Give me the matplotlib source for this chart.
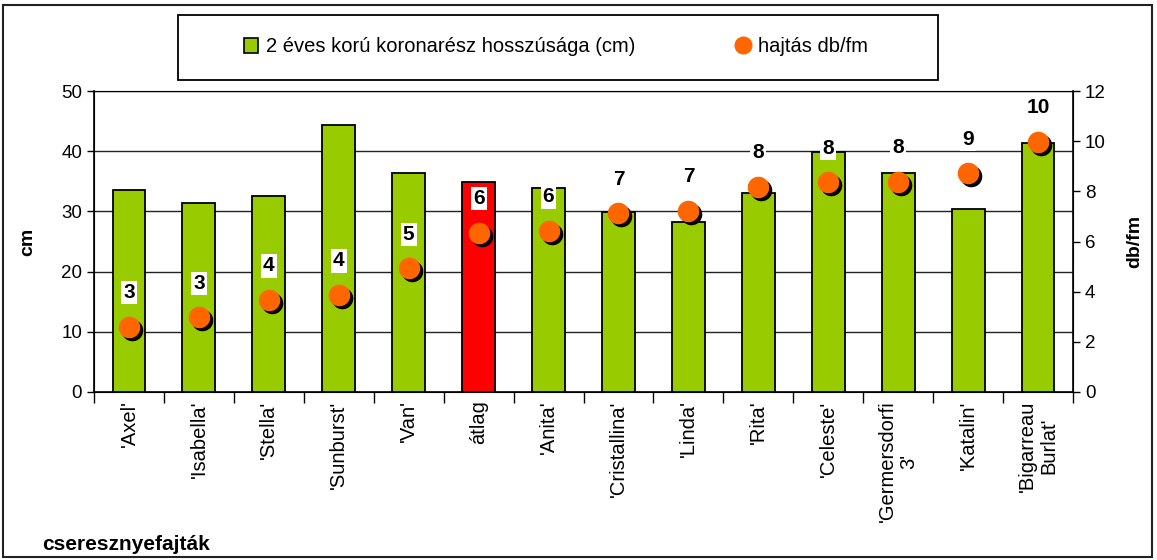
import matplotlib
matplotlib.use("Agg")
import matplotlib.pyplot as plt
from matplotlib.patches import Rectangle
from matplotlib.lines import Line2D
from matplotlib.patches import Patch
import matplotlib.transforms as mtransforms
import numpy as np

plt.rcParams['font.family'] = ['Liberation Sans', 'DejaVu Sans']

categories = ["'Axel'", "'Isabella'", "'Stella'", "'Sunburst'", "'Van'", "átlag", "'Anita'",
              "'Cristallina'", "'Linda'", "'Rita'", "'Celeste'", "'Germersdorfi\n3'",
              "'Katalin'", "'Bigarreau\nBurlat'"]
length_cm = [33.5, 31.4, 32.5, 44.4, 36.3, 34.9, 33.9, 29.9, 28.2, 33.0, 39.9, 36.3, 30.4, 41.4]
shoots = [2.6, 2.98, 3.67, 3.87, 4.93, 6.35, 6.42, 7.12, 7.23, 8.19, 8.36, 8.39, 8.72, 9.98]
shoot_labels = ["3", "3", "4", "4", "5", "6", "6", "7", "7", "8", "8", "8", "9", "10"]
bar_colors = ["#99CC00"] * 5 + ["#FF0000"] + ["#99CC00"] * 8

W, H = 1157, 560
fig = plt.figure(figsize=(W / 100, H / 100), dpi=100)
fig.patches.append(Rectangle((3 / W, 3 / H), (W - 8) / W, (H - 8) / H, transform=fig.transFigure,
                             fill=False, edgecolor='#222222', linewidth=1.5))
# legend frame
fig.patches.append(Rectangle((178 / W, 1 - 80 / H), 760 / W, 65 / H, transform=fig.transFigure,
                             fill=False, edgecolor='black', linewidth=1.3, zorder=10))

ax = fig.add_axes([94 / W, 1 - 392 / H, (1073 - 94) / W, (392 - 91) / H])
x = np.arange(len(categories))
ax.bar(x, length_cm, width=0.47, color=bar_colors, edgecolor='black', linewidth=1.3, zorder=3)
ax.set_xlim(-0.5, len(categories) - 0.5)
ax.set_ylim(0, 50)
ax.set_yticks(np.arange(0, 51, 10))
ax.yaxis.grid(True, color='#222222', linewidth=1.0, zorder=0)
ax.set_axisbelow(True)
ax.tick_params(axis='y', direction='out', length=5, labelsize=13.5, width=1)
ax.set_xticks(x)
ax.set_xticklabels(categories, rotation=90, fontsize=14.5, va='top', ha='center',
                   multialignment='center', linespacing=1.2)
ax.tick_params(axis='x', length=0, pad=6)
ax.set_xticks(np.arange(-0.5, len(categories), 1), minor=True)
ax.tick_params(axis='x', which='minor', direction='out', length=8, width=1)
ax.spines['top'].set_color('#888888')
ax.spines['left'].set_linewidth(1.2)
ax.spines['bottom'].set_linewidth(1.2)
ax.set_ylabel('cm', fontsize=14, fontweight='bold', labelpad=18)

ax2 = ax.twinx()
ax2.set_ylim(0, 12)
ax2.set_yticks(np.arange(0, 13, 2))
ax2.tick_params(axis='y', direction='out', length=5, labelsize=13.5, width=1)
ax2.spines['right'].set_linewidth(1.2)
ax2.set_ylabel('db/fm', fontsize=14, fontweight='bold', labelpad=15)

shadow = mtransforms.offset_copy(ax2.transData, fig=fig, x=3, y=-3, units='dots')
ax2.plot(x, shoots, 'o', color='black', markersize=14.5, transform=shadow, zorder=4)
ax2.plot(x, shoots, 'o', color='#FF6600', markersize=14.5, zorder=5)
for xi, yi, lab in zip(x, shoots, shoot_labels):
    ax2.annotate(lab, (xi, yi), xytext=(0, 34), textcoords='offset pixels', ha='center', va='center',
                 fontsize=15, fontweight='bold', zorder=6,
                 bbox=dict(boxstyle='square,pad=0.1', facecolor='white', edgecolor='none'))

handles = [Patch(facecolor='#99CC00', edgecolor='black', linewidth=1.2),
           Line2D([], [], marker='o', linestyle='none', color='#FF6600', markersize=12)]
leg = fig.legend(handles, ['2 éves korú koronarész hosszúsága (cm)', 'hajtás db/fm'],
                 loc='center left', bbox_to_anchor=(226 / W, 1 - 47 / H),
                 ncol=2, fontsize=14.5, frameon=False,
                 handlelength=0.7, handleheight=0.7, handletextpad=0.4, columnspacing=5.0)

fig.text(42 / W, 1 - 545 / H, 'cseresznyefajták', fontsize=15, fontweight='bold', va='center', ha='left')

fig.savefig('out.png', dpi=100)
